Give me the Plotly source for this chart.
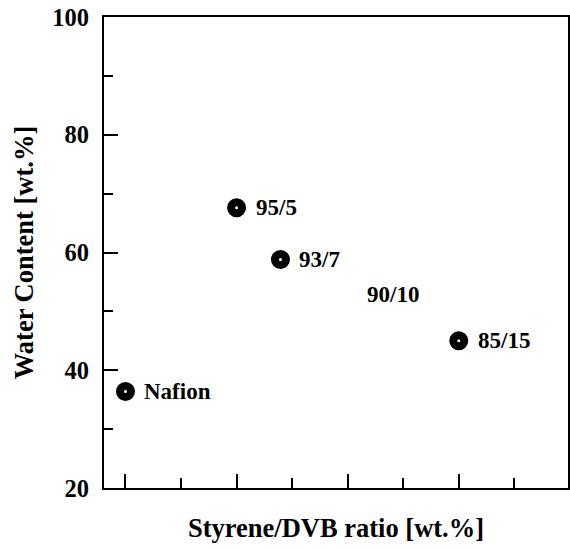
import plotly.graph_objects as go

# ---- data ----
labels = ["Nafion", "95/5", "93/7", "90/10", "85/15"]
ratio_position = [0, 2, 2.79, 4, 6]          # position along the Styrene/DVB axis
water_content = [36.4, 67.6, 58.8, 52.8, 45.0]  # wt.%
marker_shown = [1, 1, 1, 0, 1]                # 90/10 has only a label in the original

y_tickvals = [20, 40, 60, 80, 100]
y_minor = [30, 50, 70, 90]
x_major = [0, 2, 4, 6]
x_minor = [1, 3, 5, 7]

FONT = "Liberation Serif"

fig = go.Figure()
fig.add_trace(go.Scatter(
    x=ratio_position,
    y=water_content,
    mode="markers",
    marker=dict(symbol="circle-open", size=11, color="black",
                opacity=marker_shown, line=dict(width=8, color="black")),
    showlegend=False,
    hoverinfo="skip",
))

for xv, yv, lab in zip(ratio_position, water_content, labels):
    fig.add_annotation(x=xv, y=yv, text=lab, showarrow=False,
                       xanchor="left", yanchor="middle", xshift=17,
                       font=dict(family=FONT, size=23, color="black", weight="bold"))

axis_common = dict(
    showgrid=False, zeroline=False, showline=True, linewidth=2,
    linecolor="black", mirror=True, ticks="inside", tickwidth=2,
    tickcolor="black",
)

fig.update_xaxes(
    **axis_common,
    range=[-0.387, 7.967],
    tickvals=x_major, ticklen=14, showticklabels=False,
    minor=dict(tickvals=x_minor, ticks="inside", ticklen=10, tickwidth=2, tickcolor="black"),
    title=dict(text="Styrene/DVB ratio [wt.%]", standoff=29,
               font=dict(family=FONT, size=26.5, color="black", weight="bold")),
)
fig.update_yaxes(
    **axis_common,
    range=[20, 100],
    tickvals=y_tickvals, ticklen=14, ticklabelstandoff=8,
    tickfont=dict(family=FONT, size=24.5, color="black", weight="bold"),
    minor=dict(tickvals=y_minor, ticks="inside", ticklen=9, tickwidth=2, tickcolor="black"),
    title=dict(text="Water Content [wt.%]", standoff=11,
               font=dict(family=FONT, size=26.5, color="black", weight="bold")),
)

fig.update_layout(
    width=570, height=550,
    margin=dict(l=104, r=2, t=17, b=62, autoexpand=False),
    paper_bgcolor="white", plot_bgcolor="white",
)

fig.write_html("out.html")
